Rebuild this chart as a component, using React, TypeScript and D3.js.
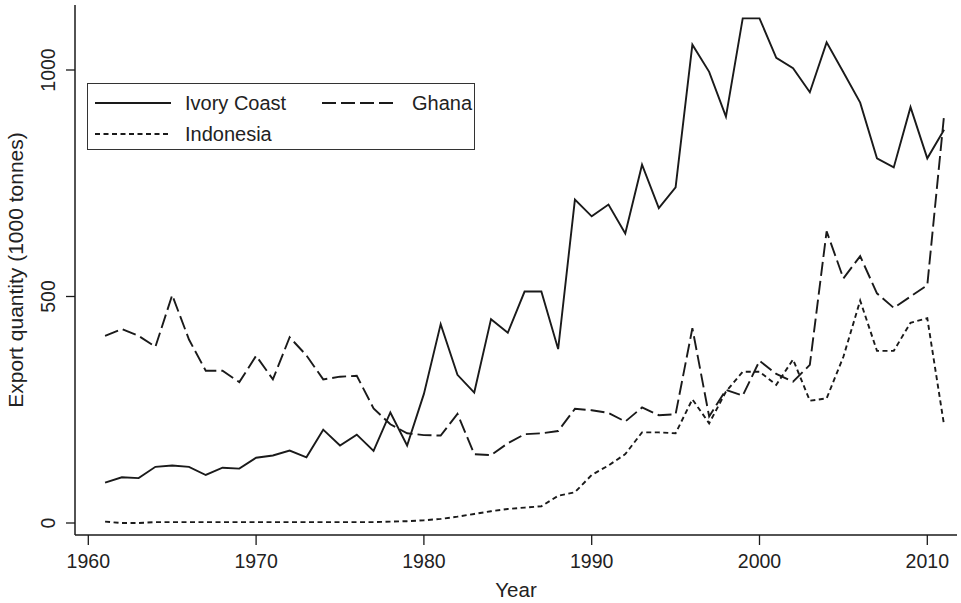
import { useRef, useEffect } from 'react';
import * as d3 from 'd3';

// Cocoa bean exports, 1000 tonnes, 1961-2011
const years = d3.range(1961, 2012);

const ivoryCoast = [
  89, 101, 99, 124, 127, 124, 106, 122, 120, 144,
  149, 160, 145, 206, 171, 195, 159, 244, 171, 285,
  439, 327, 288, 450, 420, 511, 511, 384, 714, 677,
  703, 639, 791, 695, 741, 1056, 996, 897, 1114, 1114,
  1027, 1004, 951, 1061, 995, 928, 805, 785, 918, 805, 868,
];

const ghana = [
  413, 428, 413, 389, 503, 405, 336, 336, 311, 369,
  317, 410, 370, 317, 323, 325, 253, 218, 198, 194,
  193, 241, 152, 150, 176, 196, 198, 203, 252, 249,
  243, 224, 255, 238, 240, 430, 235, 294, 281, 358,
  329, 312, 349, 644, 540, 589, 507, 475, 500, 525, 900,
];

const indonesia = [
  3, 0, 0, 2, 2, 2, 2, 2, 2, 2,
  2, 2, 2, 2, 2, 2, 2, 3, 4, 6,
  9, 14, 20, 26, 31, 34, 37, 60, 68, 106,
  127, 152, 200, 200, 198, 273, 220, 290, 334, 334,
  305, 361, 270, 275, 367, 491, 380, 380, 442, 452, 216,
];

const xTicks = [1960, 1970, 1980, 1990, 2000, 2010];
const yTicks = [0, 500, 1000];

const series = [
  { name: 'Ivory Coast', values: ivoryCoast, dash: null },
  { name: 'Ghana', values: ghana, dash: '14,5' },
  { name: 'Indonesia', values: indonesia, dash: '5,3.5' },
];

const WIDTH = 961;
const HEIGHT = 603;
const FONT = '"Liberation Sans", Arial, Helvetica, sans-serif';
const INK = '#1a1a1a';

export default function App() {
  const svgRef = useRef<SVGSVGElement | null>(null);

  useEffect(() => {
    const svg = d3.select(svgRef.current);
    svg.selectAll('*').remove();

    const plot = { left: 75, right: 957, top: 5, bottom: 535 };

    const xScale = d3.scaleLinear().domain([1960, 2010]).range([88.3, 927.3]);
    const yScale = d3.scaleLinear().domain([0, 1000]).range([523, 70]);

    svg.append('rect').attr('width', WIDTH).attr('height', HEIGHT).attr('fill', '#fff');

    // axes
    const yAxis = svg.append('g').attr('transform', `translate(${plot.left},0)`);
    yAxis.append('line')
      .attr('y1', plot.top).attr('y2', plot.bottom)
      .attr('stroke', INK).attr('stroke-width', 1.5);
    yTicks.forEach((t) => {
      yAxis.append('line')
        .attr('x1', -9).attr('x2', 0)
        .attr('y1', yScale(t)).attr('y2', yScale(t))
        .attr('stroke', INK).attr('stroke-width', 1.3);
      yAxis.append('text')
        .attr('transform', `translate(-20,${yScale(t)}) rotate(-90)`)
        .attr('text-anchor', 'middle')
        .attr('font-family', FONT)
        .attr('font-size', 19.5)
        .attr('fill', '#222')
        .text(t);
    });

    const xAxis = svg.append('g').attr('transform', `translate(0,${plot.bottom})`);
    xAxis.append('line')
      .attr('x1', plot.left).attr('x2', plot.right)
      .attr('stroke', INK).attr('stroke-width', 1.5);
    xTicks.forEach((t) => {
      xAxis.append('line')
        .attr('x1', xScale(t)).attr('x2', xScale(t))
        .attr('y1', 0).attr('y2', 10)
        .attr('stroke', INK).attr('stroke-width', 1.3);
      xAxis.append('text')
        .attr('x', xScale(t))
        .attr('y', 33)
        .attr('text-anchor', 'middle')
        .attr('font-family', FONT)
        .attr('font-size', 19.5)
        .attr('fill', '#222')
        .text(t);
    });

    // axis titles
    svg.append('text')
      .attr('x', (plot.left + plot.right) / 2)
      .attr('y', 597)
      .attr('text-anchor', 'middle')
      .attr('font-family', FONT)
      .attr('font-size', 20.5)
      .attr('fill', '#222')
      .text('Year');

    svg.append('text')
      .attr('transform', `translate(23,${(plot.top + plot.bottom) / 2}) rotate(-90)`)
      .attr('text-anchor', 'middle')
      .attr('font-family', FONT)
      .attr('font-size', 21)
      .attr('fill', '#222')
      .text('Export quantity (1000 tonnes)');

    // lines
    const line = d3.line<number>()
      .x((_, i) => xScale(years[i]))
      .y((d) => yScale(d));

    series.forEach((s) => {
      svg.append('path')
        .datum(s.values)
        .attr('d', line)
        .attr('fill', 'none')
        .attr('stroke', INK)
        .attr('stroke-width', 1.9)
        .attr('stroke-linejoin', 'miter')
        .attr('stroke-dasharray', s.dash);
    });

    // legend
    const legend = svg.append('g');
    legend.append('rect')
      .attr('x', 87.5).attr('y', 83.5)
      .attr('width', 387).attr('height', 66)
      .attr('fill', '#fff')
      .attr('stroke', '#333')
      .attr('stroke-width', 1);

    const slots = [
      { x: 95, y: 103 },
      { x: 322, y: 103 },
      { x: 95, y: 134 },
    ];
    const order = [series[0], series[1], series[2]];
    order.forEach((s, i) => {
      const { x, y } = slots[i];
      legend.append('line')
        .attr('x1', x).attr('x2', x + 76)
        .attr('y1', y).attr('y2', y)
        .attr('stroke', INK)
        .attr('stroke-width', 1.9)
        .attr('stroke-dasharray', s.dash);
      legend.append('text')
        .attr('x', x + 90)
        .attr('y', y + 7)
        .attr('font-family', FONT)
        .attr('font-size', 20)
        .attr('fill', '#222')
        .text(s.name);
    });
  }, []);

  return (
    <div style={{ position: 'absolute', left: 0, top: 0 }}>
      <svg ref={svgRef} width={WIDTH} height={HEIGHT} />
    </div>
  );
}
